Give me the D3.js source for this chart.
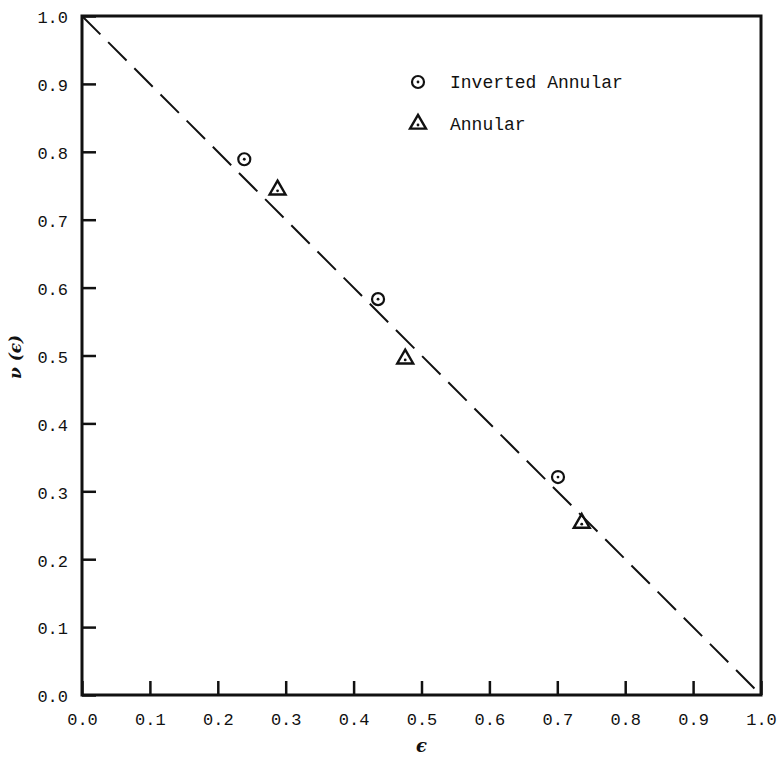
<!DOCTYPE html>
<html>
<head>
<meta charset="utf-8">
<script src="https://cdn.jsdelivr.net/npm/d3@7"></script>
<style>
  html, body { margin: 0; padding: 0; background: #fff; }
  svg { display: block; }
</style>
</head>
<body>
<svg id="chart" width="777" height="760"></svg>
<script>
// ---- data ----
const ticks = [0, 0.1, 0.2, 0.3, 0.4, 0.5, 0.6, 0.7, 0.8, 0.9, 1.0];
const invertedEps = [0.239, 0.436, 0.701];
const invertedNu  = [0.789, 0.583, 0.321];
const annularEps  = [0.288, 0.476, 0.736];
const annularNu   = [0.744, 0.495, 0.253];
const lineEps = [0, 1];
const lineNu  = [1, 0];
const legendLabels = ["Inverted Annular", "Annular"];

(function () {
const svg = d3.select("#chart");
const mL = 82, mR = 761, mT = 16, mB = 695;
const x = d3.scaleLinear().domain([0, 1]).range([mL, mR]);
const y = d3.scaleLinear().domain([0, 1]).range([mB, mT]);
const mono = "'Liberation Mono', 'DejaVu Sans Mono', monospace";
const ink = "#111";

// dashed reference line
svg.append("path")
  .datum(lineEps.map((e, i) => [e, lineNu[i]]))
  .attr("d", d3.line().x(d => x(d[0])).y(d => y(d[1])))
  .attr("fill", "none").attr("stroke", ink).attr("stroke-width", 2)
  .attr("stroke-dasharray", "26,11");

// axes with inward ticks
const xAxis = svg.append("g").attr("transform", `translate(0,${mB})`)
  .call(d3.axisBottom(x).tickValues(ticks).tickFormat(d3.format(".1f")).tickSizeInner(-14).tickSizeOuter(0).tickPadding(18));
const yAxis = svg.append("g").attr("transform", `translate(${mL},0)`)
  .call(d3.axisLeft(y).tickValues(ticks).tickFormat(d3.format(".1f")).tickSizeInner(-14).tickSizeOuter(0).tickPadding(14));
[xAxis, yAxis].forEach(g => {
  g.select(".domain").remove();
  g.selectAll(".tick line").attr("stroke", ink).attr("stroke-width", 2.5);
  g.selectAll(".tick text").attr("fill", ink).style("font-family", mono).style("font-size", "17px");
});
xAxis.selectAll(".tick text").attr("dy", "0.71em");
yAxis.selectAll(".tick text").attr("dy", "0.4em");

// frame
svg.append("rect")
  .attr("x", x(0)).attr("y", y(1))
  .attr("width", x(1) - x(0)).attr("height", y(0) - y(1))
  .attr("fill", "none").attr("stroke", ink).attr("stroke-width", 3);

// markers
function circleMark(g, cx, cy) {
  g.append("circle").attr("cx", cx).attr("cy", cy).attr("r", 6)
    .attr("fill", "none").attr("stroke", ink).attr("stroke-width", 2.2);
  g.append("circle").attr("cx", cx).attr("cy", cy).attr("r", 1.4).attr("fill", ink);
}
const tri = d3.symbol().type(d3.symbolTriangle).size(110);
function triMark(g, cx, cy) {
  g.append("path").attr("d", tri).attr("transform", `translate(${cx},${cy})`)
    .attr("fill", "none").attr("stroke", ink).attr("stroke-width", 2.4).attr("stroke-linejoin", "miter");
  g.append("circle").attr("cx", cx).attr("cy", cy + 1).attr("r", 1.4).attr("fill", ink);
}
const marks = svg.append("g");
invertedEps.forEach((e, i) => circleMark(marks, x(e), y(invertedNu[i])));
annularEps.forEach((e, i) => triMark(marks, x(e), y(annularNu[i])));

// legend
const lg = svg.append("g");
circleMark(lg, 418, 82);
triMark(lg, 418, 124);
lg.selectAll("text").data(legendLabels).join("text")
  .attr("x", 450).attr("y", (d, i) => 88 + i * 42)
  .attr("fill", ink).style("font-family", mono).style("font-size", "18px")
  .text(d => d);

// axis titles
svg.append("text").attr("x", x(0.5)).attr("y", 752).attr("text-anchor", "middle")
  .style("font-family", "'DejaVu Serif', serif").style("font-style", "italic").style("font-weight", "bold")
  .style("font-size", "18px").attr("fill", ink).text("ϵ");
svg.append("text").attr("transform", "translate(21,357) rotate(-90)").attr("text-anchor", "middle")
  .style("font-family", "'DejaVu Serif', serif").style("font-style", "italic").style("font-weight", "bold")
  .style("font-size", "17px").attr("fill", ink).text("ν (ϵ)");
})();
</script>
</body>
</html>
